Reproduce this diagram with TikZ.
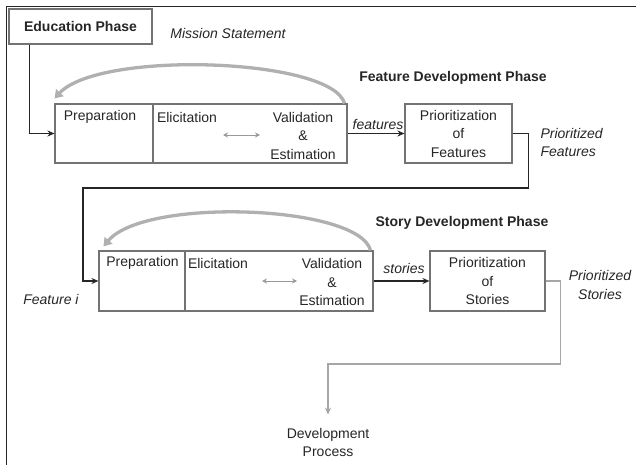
\documentclass[tikz,border=0pt]{standalone}
\usepackage{fontspec}
\setmainfont{Liberation Sans}
\usetikzlibrary{arrows.meta}
\definecolor{boxgray}{gray}{0.45}
\definecolor{inkgray}{gray}{0.15}
\begin{document}
\begin{tikzpicture}
  [x=1pt,y=-1pt,
   font=\fontsize{14}{18.5}\selectfont,
   every node/.style={text=inkgray},
   box/.style={draw=boxgray,line width=1.1pt,minimum height=59pt,inner sep=0pt},
   title/.style={font=\fontsize{14}{18.5}\selectfont\bfseries},
   lbl/.style={font=\fontsize{14}{18.5}\selectfont\itshape},
   flow/.style={-{Stealth[length=7pt,width=6pt]},line width=1.3pt,draw=inkgray},
   swap/.style={{Stealth[length=5pt,width=5pt]}-{Stealth[length=5pt,width=5pt]},draw=gray!80,line width=0.9pt},
   loopback/.style={-{Triangle[length=8pt,width=10pt]},line width=3.3pt,draw=gray!62}]
  \useasboundingbox (0,0) rectangle (636,465);
  \draw[line width=1pt,inkgray] (636,7) -- (6,7) -- (6,465);

  \node[box,title,minimum width=143pt,minimum height=35pt] (edu) at (80.5,26.5) {Education Phase};
  \node[lbl] (mission) at (228,33) {Mission Statement};

  % feature development phase
  \node[title] (ftitle) at (453,78) {Feature Development Phase};
  \node[box,minimum width=98pt] (fprep) at (104,133.5) {};
  \node[box,minimum width=194pt] (felic) at (250,133.5) {};
  \node (fpreptxt) at (100,117) {Preparation};
  \node[anchor=west] (felictxt) at (153.5,117) {Elicitation};
  \node[align=center] (fvaltxt) at (303,135.5) {Validation\\\&\\Estimation};
  \node[box,minimum width=107pt,align=center] (pfeat) at (458.5,133.5) {Prioritization\\of\\Features};
  \node[lbl] (featlbl) at (378,124) {features};
  \node[lbl,align=left,anchor=west] (pflbl) at (537,142.5) {Prioritized\\Features};

  % story development phase
  \node[title] (stitle) at (462,223) {Story Development Phase};
  \node[box,minimum width=86pt,minimum height=60pt] (sprep) at (142,281) {};
  \node[box,minimum width=188pt,minimum height=60pt] (selic) at (279,281) {};
  \node (spreptxt) at (142.5,263) {Preparation};
  \node[anchor=west] (selictxt) at (184.5,263) {Elicitation};
  \node[align=center] (svaltxt) at (332,282) {Validation\\\&\\Estimation};
  \node[box,minimum width=115pt,minimum height=60pt,align=center] (pstor) at (487.5,281) {Prioritization\\of\\Stories};
  \node[lbl] (storlbl) at (404,268) {stories};
  \node[lbl,align=center] (pslbl) at (600,285) {Prioritized\\Stories};
  \node[lbl] (feati) at (51,299) {Feature i};
  \node[align=center] (devp) at (328,442.5) {Development\\Process};

  \coordinate (fret) at (83,188);
  \coordinate (sout) at (328,364);
  \coordinate (fa) at (223,135);
  \coordinate (fb) at (260,135);
  \coordinate (sa) at (262,281);
  \coordinate (sb) at (297,281);

  % connectors
  \draw[flow] ([xshift=21pt]edu.south west) |- (fprep.west);
  \draw[flow] (felic.east) -- (pfeat.west);
  \draw[flow] (pfeat.east) -- ++(16,0) |- (fret) |- (sprep.west);
  \draw[flow] (selic.east) -- (pstor.west);
  \draw[flow,draw=gray!70,shorten >=10pt] (pstor.east) -- ++(15,0) |- (sout) -- (devp.north);

  \draw[swap] (fa) -- (fb);
  \draw[swap] (sa) -- (sb);

  % iteration loops
  \draw[loopback] ([xshift=-3pt]felic.north east) .. controls (332,58) and (100,50) .. ([yshift=5pt]fprep.north west);
  \draw[loopback] ([xshift=-3pt]selic.north east) .. controls (359,205) and (145,197) .. ([shift={(5pt,4pt)}]sprep.north west);
\end{tikzpicture}
\end{document}
